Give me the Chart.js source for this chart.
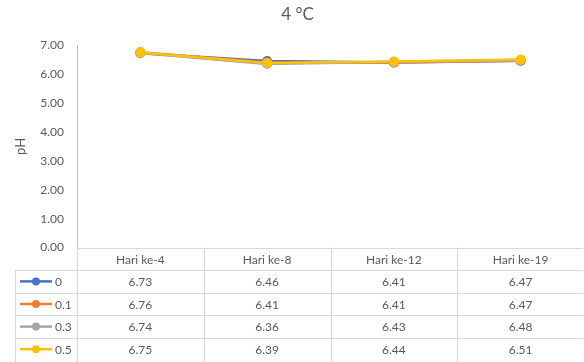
<!DOCTYPE html>
<html>
<head>
<meta charset="utf-8">
<script src="https://cdn.jsdelivr.net/npm/chart.js@4/dist/chart.umd.min.js"></script>
<style>
  html, body { margin: 0; padding: 0; background: #ffffff; }
  #wrap { width: 584px; height: 362px; position: relative; }
</style>
</head>
<body>
<div id="wrap"><canvas id="c" width="584" height="362"></canvas></div>
<script>
// pH at 4 °C over storage days
const categories = ['Hari ke-4', 'Hari ke-8', 'Hari ke-12', 'Hari ke-19'];
const seriesNames = ['0', '0.1', '0.3', '0.5'];
const ph0  = [6.73, 6.46, 6.41, 6.47];
const ph01 = [6.76, 6.41, 6.41, 6.47];
const ph03 = [6.74, 6.36, 6.43, 6.48];
const ph05 = [6.75, 6.39, 6.44, 6.51];
const yTicks = [0, 1, 2, 3, 4, 5, 6, 7];

const seriesValues = [ph0, ph01, ph03, ph05];
const seriesColors = ['#4472C4', '#ED7D31', '#A5A5A5', '#FFC000'];

const FONT = 'Lato, "Liberation Sans", sans-serif';
const TEXT = '#595959';
const TABLE_LINE = '#D9D9D9';
const ROW_H = 22.6;

// Data table under the plot, aligned to the category scale
const dataTable = {
  id: 'dataTable',
  afterDraw(chart) {
    const ctx = chart.ctx;
    const x = chart.scales.x;
    const area = chart.chartArea;
    const half = (x.getPixelForValue(1) - x.getPixelForValue(0)) / 2;
    const top = area.bottom;
    const left = area.left;
    const right = area.right - 1;
    const legendLeft = 15;
    const nRows = seriesNames.length;
    const bottom = top + ROW_H * (nRows + 1) + 4;

    ctx.save();
    ctx.strokeStyle = TABLE_LINE;
    ctx.lineWidth = 1.2;
    // horizontal lines
    for (let r = 0; r <= nRows; r++) {
      const y = Math.round(top + ROW_H * r) + 0.5;
      ctx.beginPath();
      ctx.moveTo(r === 0 ? left : legendLeft, y);
      ctx.lineTo(right, y);
      ctx.stroke();
    }
    // vertical lines
    categories.forEach((c, i) => {
      const xl = Math.round(x.getPixelForValue(i) - half) + 0.5;
      ctx.beginPath();
      ctx.moveTo(xl, top);
      ctx.lineTo(xl, bottom);
      ctx.stroke();
    });
    ctx.beginPath();
    ctx.moveTo(legendLeft + 0.5, top + ROW_H);
    ctx.lineTo(legendLeft + 0.5, bottom);
    ctx.stroke();

    // header + values
    ctx.fillStyle = TEXT;
    ctx.font = '12px ' + FONT;
    ctx.textAlign = 'center';
    ctx.textBaseline = 'middle';
    categories.forEach((c, i) => {
      ctx.fillText(c, x.getPixelForValue(i), top + ROW_H / 2 + 1);
    });
    seriesValues.forEach((vals, r) => {
      const cy = top + ROW_H * (r + 1) + ROW_H / 2 + 1;
      vals.forEach((v, i) => {
        ctx.fillText(v.toFixed(2), x.getPixelForValue(i), cy);
      });
      // legend key
      ctx.strokeStyle = seriesColors[r];
      ctx.lineWidth = 2.5;
      ctx.beginPath();
      ctx.moveTo(20, cy - 1);
      ctx.lineTo(52, cy - 1);
      ctx.stroke();
      ctx.fillStyle = seriesColors[r];
      ctx.beginPath();
      ctx.arc(36, cy - 1, 4, 0, Math.PI * 2);
      ctx.fill();
      ctx.fillStyle = TEXT;
      ctx.textAlign = 'left';
      ctx.fillText(seriesNames[r], 55, cy);
      ctx.textAlign = 'center';
    });

    // y axis line continues through the table
    ctx.strokeStyle = TABLE_LINE;
    ctx.lineWidth = 1.2;
    ctx.beginPath();
    ctx.moveTo(Math.round(left) + 0.5, top);
    ctx.lineTo(Math.round(left) + 0.5, bottom);
    ctx.stroke();
    ctx.restore();
  }
};

const datasets = seriesNames.map((name, i) => ({
  label: name,
  data: seriesValues[i],
  borderColor: seriesColors[i],
  backgroundColor: seriesColors[i],
  borderWidth: 2.5,
  pointRadius: 5,
  pointHoverRadius: 5,
  pointBorderWidth: 0,
  tension: 0,
  order: seriesNames.length - i
}));

new Chart(document.getElementById('c'), {
  type: 'line',
  data: { labels: categories, datasets },
  options: {
    responsive: false,
    animation: false,
    devicePixelRatio: 1,
    layout: { autoPadding: false, padding: { top: 0, bottom: 114.5, left: 11, right: 0 } },
    plugins: {
      legend: { display: false },
      tooltip: { enabled: false },
      title: {
        display: true,
        text: '4 °C',
        color: TEXT,
        font: { family: FONT, size: 17, weight: 'normal' },
        padding: { top: 4, bottom: 21 }
      }
    },
    scales: {
      x: {
        type: 'category',
        display: false,
        offset: true
      },
      y: {
        min: 0,
        max: 7,
        afterBuildTicks(scale) {
          scale.ticks = yTicks.map(v => ({ value: v }));
        },
        afterFit(scale) { scale.width = 66; },
        grid: { display: false, drawTicks: false },
        border: { display: true, color: '#BFBFBF', width: 1 },
        ticks: {
          color: TEXT,
          font: { family: FONT, size: 12 },
          padding: 13,
          callback: v => Number(v).toFixed(2)
        },
        title: {
          display: true,
          text: 'pH',
          color: TEXT,
          font: { family: FONT, size: 13 },
          padding: { top: 2, bottom: 0 }
        }
      }
    }
  },
  plugins: [dataTable]
});
</script>
</body>
</html>
